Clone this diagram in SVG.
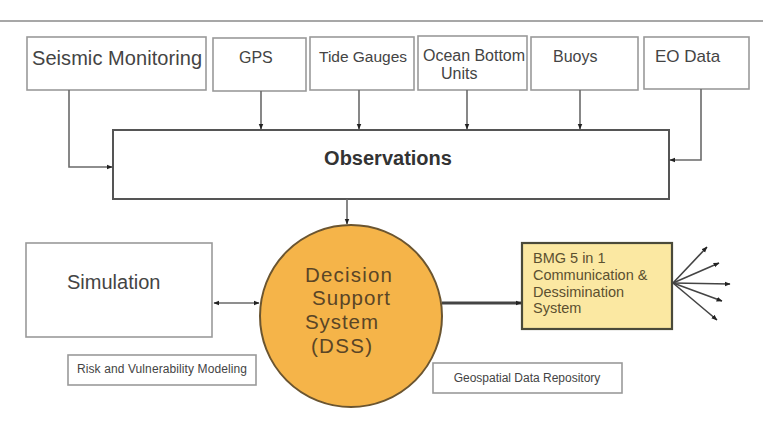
<svg xmlns="http://www.w3.org/2000/svg" width="763" height="437" viewBox="0 0 763 437">
<defs>
<marker id="ah" viewBox="0 0 10 10" refX="9" refY="5" markerWidth="6" markerHeight="6" markerUnits="userSpaceOnUse" orient="auto-start-reverse">
<path d="M0,1 L10,5 L0,9 Z" fill="#222"/>
</marker>
</defs>
<style>
.box{fill:#fff;stroke:#9a9a9a;stroke-width:1.6}
.t{font-family:"Liberation Sans",Arial,sans-serif;fill:#444}
.ln{fill:none;stroke:#6a6a6a;stroke-width:1.6}
</style>
<rect width="763" height="437" fill="#fff"/>
<line x1="0" y1="21" x2="763" y2="21" stroke="#8a8a8a" stroke-width="1.5"/>

<g id="seismic"><rect class="box" x="27" y="37" width="179" height="53"/><text class="t" x="32" y="65" font-size="20" textLength="170">Seismic Monitoring</text></g>
<g id="gps"><rect class="box" x="213" y="38" width="93" height="53"/><text class="t" x="239" y="63" font-size="16">GPS</text></g>
<g id="tide"><rect class="box" x="310" y="37" width="104" height="53"/><text class="t" x="319" y="62" font-size="15.5" textLength="88">Tide Gauges</text></g>
<g id="ocean"><rect class="box" x="418" y="36" width="109" height="54"/><text class="t" font-size="16"><tspan x="423" y="61" textLength="102">Ocean Bottom</tspan><tspan x="441" y="79">Units</tspan></text></g>
<g id="buoys"><rect class="box" x="531" y="37" width="107" height="53"/><text class="t" x="553" y="62" font-size="16">Buoys</text></g>
<g id="eodata"><rect class="box" x="644" y="37" width="105" height="52"/><text class="t" x="655" y="62" font-size="17">EO Data</text></g>

<g id="observations"><rect x="113" y="130" width="556" height="69" fill="#fff" stroke="#555" stroke-width="2"/><text x="388" y="165" font-family="Liberation Sans,Arial,sans-serif" font-weight="bold" font-size="20" fill="#333" text-anchor="middle">Observations</text></g>

<g id="simulation"><rect class="box" x="26" y="243" width="186" height="94"/><text class="t" x="67" y="289" font-size="20">Simulation</text></g>
<g id="risk"><rect class="box" x="68" y="355" width="188" height="30"/><text class="t" x="77" y="373" font-size="12" textLength="170">Risk and Vulnerability Modeling</text></g>

<g id="dss"><circle cx="351" cy="316" r="91" fill="#f5b449" stroke="#6b5530" stroke-width="2"/>
<text font-family="Liberation Sans,Arial,sans-serif" font-size="20.5" fill="#5a4526"><tspan x="305" y="282" textLength="87">Decision</tspan><tspan x="312" y="305" textLength="78">Support</tspan><tspan x="305" y="329" textLength="73">System</tspan><tspan x="311" y="353" textLength="61">(DSS)</tspan></text></g>

<g id="bmg"><rect x="522" y="243" width="150" height="86" fill="#fbe8a2" stroke="#4a4a3a" stroke-width="2.2"/>
<text font-family="Liberation Sans,Arial,sans-serif" font-size="14.5" fill="#5c5030"><tspan x="533" y="263">BMG 5  in 1</tspan><tspan x="533" y="280">Communication &amp;</tspan><tspan x="533" y="297">Dessimination</tspan><tspan x="533" y="313">System</tspan></text></g>

<g id="geo"><rect class="box" x="433" y="363" width="189" height="30"/><text class="t" x="527" y="382" font-size="12" text-anchor="middle">Geospatial Data Repository</text></g>

<g id="connectors">
<path class="ln" d="M69,90 V167 H112" marker-end="url(#ah)"/>
<path class="ln" d="M261,91 V129" marker-end="url(#ah)"/>
<path class="ln" d="M359,90 V129" marker-end="url(#ah)"/>
<path class="ln" d="M467,90 V129" marker-end="url(#ah)"/>
<path class="ln" d="M580,90 V129" marker-end="url(#ah)"/>
<path class="ln" d="M701,89 V160 H670" marker-end="url(#ah)"/>
<path class="ln" d="M347,199 V224" marker-end="url(#ah)"/>
<path class="ln" d="M214,303 H259" marker-start="url(#ah)" marker-end="url(#ah)"/>
<path d="M442,303 H521" fill="none" stroke="#444" stroke-width="3" marker-end="url(#ah)"/>
<g stroke="#444" stroke-width="1.6" fill="none">
<path d="M673,283 L707,247" marker-end="url(#ah)"/>
<path d="M673,283 L719,263" marker-end="url(#ah)"/>
<path d="M673,283 L730,284" marker-end="url(#ah)"/>
<path d="M673,283 L722,301" marker-end="url(#ah)"/>
<path d="M673,283 L717,320" marker-end="url(#ah)"/>
</g>
</g>
</svg>
